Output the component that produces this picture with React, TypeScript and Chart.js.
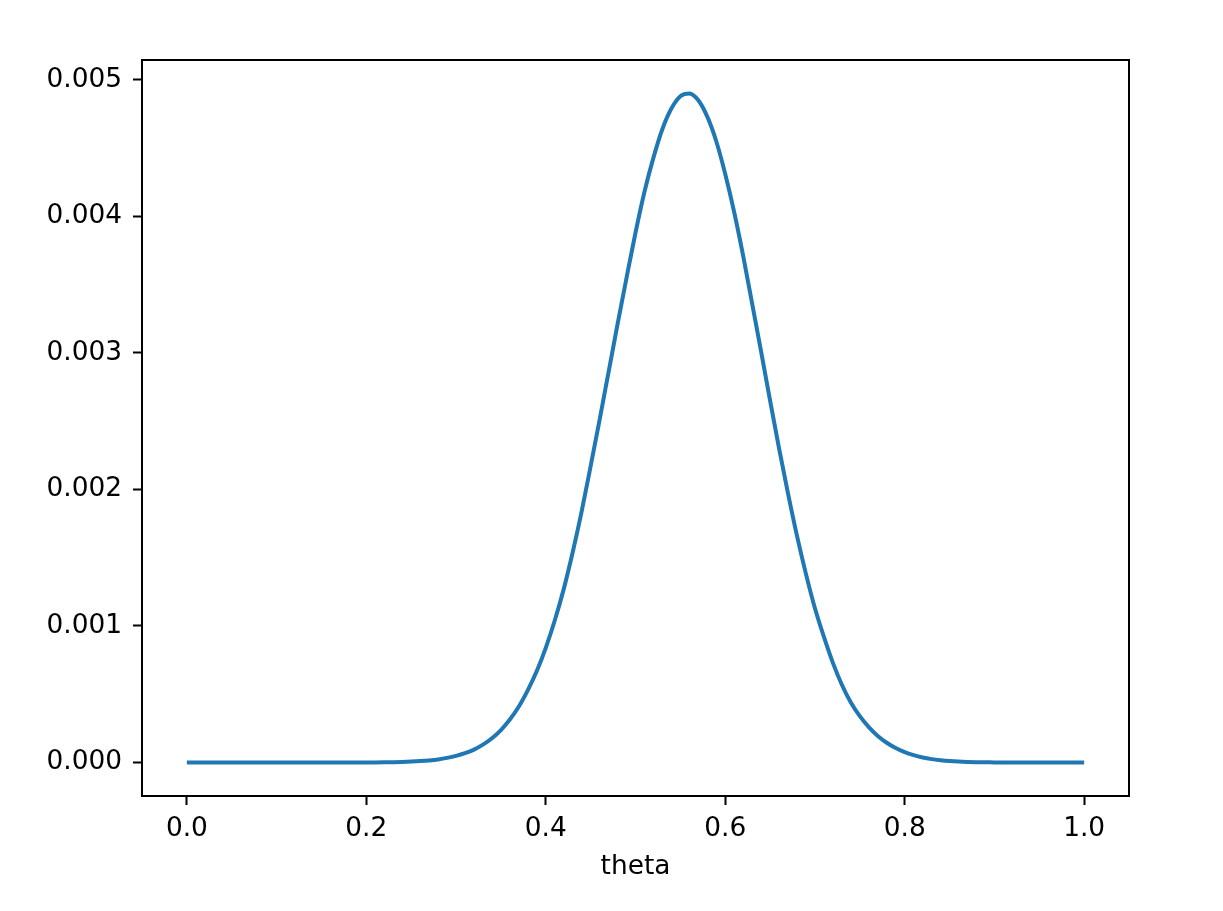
import React, { useEffect, useRef } from "react";
import { Chart, registerables } from "chart.js";

Chart.register(...registerables);

const theta = [
  0.0, 0.01, 0.02, 0.03, 0.04, 0.05, 0.06, 0.07, 0.08, 0.09,
  0.1, 0.11, 0.12, 0.13, 0.14, 0.15, 0.16, 0.17, 0.18, 0.19,
  0.2, 0.21, 0.22, 0.23, 0.24, 0.25, 0.26, 0.27, 0.28, 0.29,
  0.3, 0.31, 0.32, 0.33, 0.34, 0.35, 0.36, 0.37, 0.38, 0.39,
  0.4, 0.41, 0.42, 0.43, 0.44, 0.45, 0.46, 0.47, 0.48, 0.49,
  0.5, 0.51, 0.52, 0.53, 0.54, 0.55, 0.56, 0.57, 0.58, 0.59,
  0.6, 0.61, 0.62, 0.63, 0.64, 0.65, 0.66, 0.67, 0.68, 0.69,
  0.7, 0.71, 0.72, 0.73, 0.74, 0.75, 0.76, 0.77, 0.78, 0.79,
  0.8, 0.81, 0.82, 0.83, 0.84, 0.85, 0.86, 0.87, 0.88, 0.89,
  0.9, 0.91, 0.92, 0.93, 0.94, 0.95, 0.96, 0.97, 0.98, 0.99, 1.0,
];

const posterior = [
  0, 0, 0, 0, 0, 0, 0, 0, 0, 0,
  0, 0, 0, 0, 0, 0, 0, 0, 0, 0,
  0.0000007, 0.0000011, 0.0000018, 0.0000029, 0.0000045, 0.0000069, 0.0000105, 0.0000157, 0.000023, 0.000034,
  0.000049, 0.000069, 0.000095, 0.000131, 0.000178, 0.000238, 0.000315, 0.00041, 0.00053, 0.00067,
  0.00084, 0.00104, 0.00127, 0.00154, 0.00184, 0.00217, 0.00251, 0.00286, 0.00321, 0.00355,
  0.00388, 0.00418, 0.00443, 0.00464, 0.00479, 0.00488, 0.0049, 0.00485, 0.00473, 0.00455,
  0.00431, 0.00403, 0.00371, 0.00336, 0.00301, 0.00265, 0.0023, 0.00197, 0.00166, 0.00138,
  0.00113, 0.00092, 0.00073, 0.00057, 0.00044, 0.00034, 0.00026, 0.000195, 0.000145, 0.000106,
  0.000076, 0.000054, 0.000037, 0.000025, 0.000017, 0.000011, 0.000007, 0.0000045, 0.0000028, 0.0000017,
  0.000001, 0, 0, 0, 0, 0, 0, 0, 0, 0, 0,
];

const xTicks = [0.0, 0.2, 0.4, 0.6, 0.8, 1.0];
const yTicks = [0.0, 0.001, 0.002, 0.003, 0.004, 0.005];
const xLabel = "theta";

export default function App() {
  const ref = useRef<HTMLCanvasElement | null>(null);

  useEffect(() => {
    if (!ref.current) return;
    const font = { family: "'DejaVu Sans', sans-serif", size: 26.4 };
    const boxPlugin = {
      id: "axesBox",
      afterDatasetsDraw(chart: any) {
        const { ctx, chartArea: a } = chart;
        ctx.save();
        ctx.strokeStyle = "#000";
        ctx.lineWidth = 2;
        ctx.strokeRect(a.left, a.top, a.right - a.left, a.bottom - a.top);
        ctx.restore();
      },
    };
    const chart = new Chart(ref.current, {
      type: "line",
      data: {
        datasets: [
          {
            data: theta.map((t, i) => ({ x: t, y: posterior[i] })),
            borderColor: "#1f77b4",
            borderWidth: 4,
            pointRadius: 0,
            cubicInterpolationMode: "monotone",
            fill: false,
          },
        ],
      },
      options: {
        animation: false,
        responsive: false,
        maintainAspectRatio: false,
        layout: { padding: { top: 60, right: 94, left: 0, bottom: 0 } },
        plugins: { legend: { display: false }, tooltip: { enabled: false } },
        scales: {
          x: {
            type: "linear",
            min: -0.05,
            max: 1.05,
            afterBuildTicks: (s: any) => {
              s.ticks = xTicks.map((v) => ({ value: v }));
            },
            afterFit: (s: any) => {
              s.height = 115;
            },
            ticks: {
              callback: (v: any) => Number(v).toFixed(1),
              font,
              color: "#000",
              padding: 8,
              maxRotation: 0,
              autoSkip: false,
            },
            grid: {
              drawOnChartArea: false,
              drawTicks: true,
              tickLength: 9,
              tickWidth: 2,
              tickColor: "#000",
            },
            border: { display: false },
            title: {
              display: true,
              text: xLabel,
              font,
              color: "#000",
              padding: { top: 28, bottom: 28 },
            },
          },
          y: {
            type: "linear",
            min: -0.000245,
            max: 0.005145,
            afterBuildTicks: (s: any) => {
              s.ticks = yTicks.map((v) => ({ value: v }));
            },
            afterFit: (s: any) => {
              s.width = 142;
            },
            ticks: {
              callback: (v: any) => Number(v).toFixed(3),
              font,
              color: "#000",
              padding: 11,
              autoSkip: false,
            },
            grid: {
              drawOnChartArea: false,
              drawTicks: true,
              tickLength: 9,
              tickWidth: 2,
              tickColor: "#000",
            },
            border: { display: false },
          },
        },
      },
      plugins: [boxPlugin],
    } as any);
    return () => chart.destroy();
  }, []);

  return (
    <div style={{ position: "absolute", left: 0, top: 0, width: 1223, height: 911, background: "#fff" }}>
      <canvas ref={ref} width={1223} height={911} style={{ display: "block" }} />
    </div>
  );
}
